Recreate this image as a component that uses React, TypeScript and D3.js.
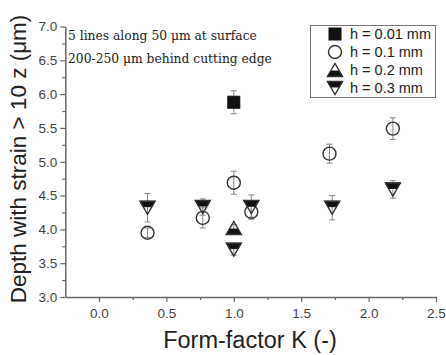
import { useEffect, useRef } from 'react';
import * as d3 from 'd3';

// Data
const formFactor001 = [1.0];
const depth001 = [5.88];
const err001 = [0.17];

const formFactor01 = [0.36, 0.77, 1.0, 1.13, 1.71, 2.18];
const depth01 = [3.95, 4.17, 4.69, 4.26, 5.12, 5.49];
const err01 = [0.07, 0.15, 0.17, 0.08, 0.14, 0.16];

const formFactor02 = [1.0];
const depth02 = [4.02];
const err02 = [0.05];

const formFactor03 = [0.36, 0.77, 1.0, 1.13, 1.73, 2.18];
const depth03 = [4.32, 4.33, 3.7, 4.33, 4.32, 4.59];
const err03 = [0.21, 0.12, 0.08, 0.18, 0.18, 0.13];

const xTicks = [0.0, 0.5, 1.0, 1.5, 2.0, 2.5];
const yTicks = [3.0, 3.5, 4.0, 4.5, 5.0, 5.5, 6.0, 6.5, 7.0];
const legendLabels = ['h = 0.01 mm', 'h = 0.1 mm', 'h = 0.2 mm', 'h = 0.3 mm'];
const noteLines = ['5 lines along 50 \u03bcm at surface', '200-250 \u03bcm behind cutting edge'];

type Marker = 'square' | 'circle' | 'up' | 'down';

const series: { k: number[]; v: number[]; e: number[]; marker: Marker }[] = [
    { k: formFactor001, v: depth001, e: err001, marker: 'square' },
    { k: formFactor01, v: depth01, e: err01, marker: 'circle' },
    { k: formFactor02, v: depth02, e: err02, marker: 'up' },
    { k: formFactor03, v: depth03, e: err03, marker: 'down' },
];

const W = 446;
const H = 355;
const SANS = '"Liberation Sans", Arial, sans-serif';

function drawMarker(g: d3.Selection<SVGGElement, unknown, null, undefined>, marker: Marker) {
    const stroke = '#333';
    if (marker === 'square') {
        g.append('rect').attr('x', -6).attr('y', -6).attr('width', 12).attr('height', 12)
            .attr('fill', '#111').attr('stroke', '#111');
    } else if (marker === 'circle') {
        g.append('circle').attr('r', 6.5).attr('fill', 'none').attr('stroke', stroke).attr('stroke-width', 1.4);
    } else {
        const w = 15, h = 13;
        const dir = marker === 'down' ? 1 : -1;
        // flat side at -dir*h/2, point at dir*h/2
        const base = -dir * h / 2;
        const tip = dir * h / 2;
        const band = 0.42;
        const bandEdge = base + dir * h * band;
        const hw = (w / 2) * (1 - band);
        g.append('path')
            .attr('d', `M${-w / 2},${base}L${w / 2},${base}L${hw},${bandEdge}L${-hw},${bandEdge}Z`)
            .attr('fill', '#111').attr('stroke', '#111').attr('stroke-width', 1);
        g.append('path')
            .attr('d', `M${-w / 2},${base}L${w / 2},${base}L0,${tip}Z`)
            .attr('fill', 'none').attr('stroke', stroke).attr('stroke-width', 1.4).attr('stroke-linejoin', 'miter');
    }
}

export default function App() {
    const svgRef = useRef<SVGSVGElement>(null);

    useEffect(() => {
        if (!svgRef.current) return;
        const svg = d3.select(svgRef.current);
        svg.selectAll('*').remove();

        const x = d3.scaleLinear().domain([-0.25, 2.5]).range([65.3, 436]);
        const y = d3.scaleLinear().domain([3, 7]).range([297, 26.5]);
        const axisColor = '#666';
        const labelColor = '#444';

        // Y axis
        const yAxis = svg.append('g').attr('transform', `translate(${x(-0.25)},0)`)
            .call(d3.axisLeft(y).tickValues(yTicks).tickFormat(d3.format('.1f')).tickSize(5).tickSizeOuter(0).tickPadding(3));
        yAxis.append('g')
            .call(d3.axisLeft(y).tickValues(d3.range(3.25, 7, 0.5)).tickFormat(() => '').tickSize(3).tickSizeOuter(0))
            .select('.domain').remove();

        // X axis
        const xAxis = svg.append('g').attr('transform', `translate(0,${y(3)})`)
            .call(d3.axisBottom(x).tickValues(xTicks).tickFormat(d3.format('.1f')).tickSize(5).tickSizeOuter(0).tickPadding(6));
        xAxis.append('g')
            .call(d3.axisBottom(x).tickValues(d3.range(0.25, 2.5, 0.5)).tickFormat(() => '').tickSize(3).tickSizeOuter(0))
            .select('.domain').remove();

        [yAxis, xAxis].forEach(a => {
            a.selectAll('.domain').attr('stroke', axisColor).attr('stroke-width', 1.5);
            a.selectAll('line').attr('stroke', axisColor).attr('stroke-width', 1.2);
            a.selectAll('text').attr('fill', labelColor).style('font-family', SANS).style('font-size', '13.5px');
        });

        // Error bars
        const bars = svg.append('g');
        series.forEach(s => {
            s.k.forEach((k, i) => {
                const cx = x(k);
                const top = y(s.v[i] + s.e[i]);
                const bot = y(s.v[i] - s.e[i]);
                bars.append('line').attr('x1', cx).attr('x2', cx).attr('y1', top).attr('y2', bot)
                    .attr('stroke', '#888').attr('stroke-width', 1);
                [top, bot].forEach(yy => {
                    bars.append('line').attr('x1', cx - 3).attr('x2', cx + 3).attr('y1', yy).attr('y2', yy)
                        .attr('stroke', '#888').attr('stroke-width', 1);
                });
            });
        });

        // Markers
        const marks = svg.append('g');
        series.forEach(s => {
            s.k.forEach((k, i) => {
                const g = marks.append('g').attr('transform', `translate(${x(k)},${y(s.v[i])})`);
                drawMarker(g, s.marker);
            });
        });

        // Legend
        const legend = svg.append('g');
        legend.append('rect').attr('x', 310.5).attr('y', 25.5).attr('width', 125).attr('height', 72)
            .attr('fill', 'white').attr('stroke', '#777').attr('stroke-width', 1);
        legendLabels.forEach((label, i) => {
            const ly = 34 + i * 18;
            const g = legend.append('g').attr('transform', `translate(335,${ly})`);
            drawMarker(g, series[i].marker);
            legend.append('text').attr('x', 350).attr('y', ly + 5).text(label)
                .attr('fill', '#222').style('font-family', SANS).style('font-size', '14.5px');
        });

        // Annotation
        noteLines.forEach((line, i) => {
            svg.append('text').attr('x', 68).attr('y', 40 + i * 23).text(line)
                .attr('fill', '#222').style('font-family', '"DejaVu Serif", serif').style('font-size', '12.3px');
        });

        // Axis titles
        svg.append('text').attr('transform', 'rotate(-90)').attr('x', -159).attr('y', 26)
            .attr('text-anchor', 'middle').text('Depth with strain > 10 z (\u03bcm)')
            .attr('fill', '#222').style('font-family', SANS).style('font-size', '22.5px');
        svg.append('text').attr('x', 250).attr('y', 348).attr('text-anchor', 'middle').text('Form-factor K (-)')
            .attr('fill', '#222').style('font-family', SANS).style('font-size', '23.5px');
    }, []);

    return (
        <svg ref={svgRef} width={W} height={H}
            style={{ position: 'absolute', left: 0, top: 0, background: 'white' }} />
    );
}
